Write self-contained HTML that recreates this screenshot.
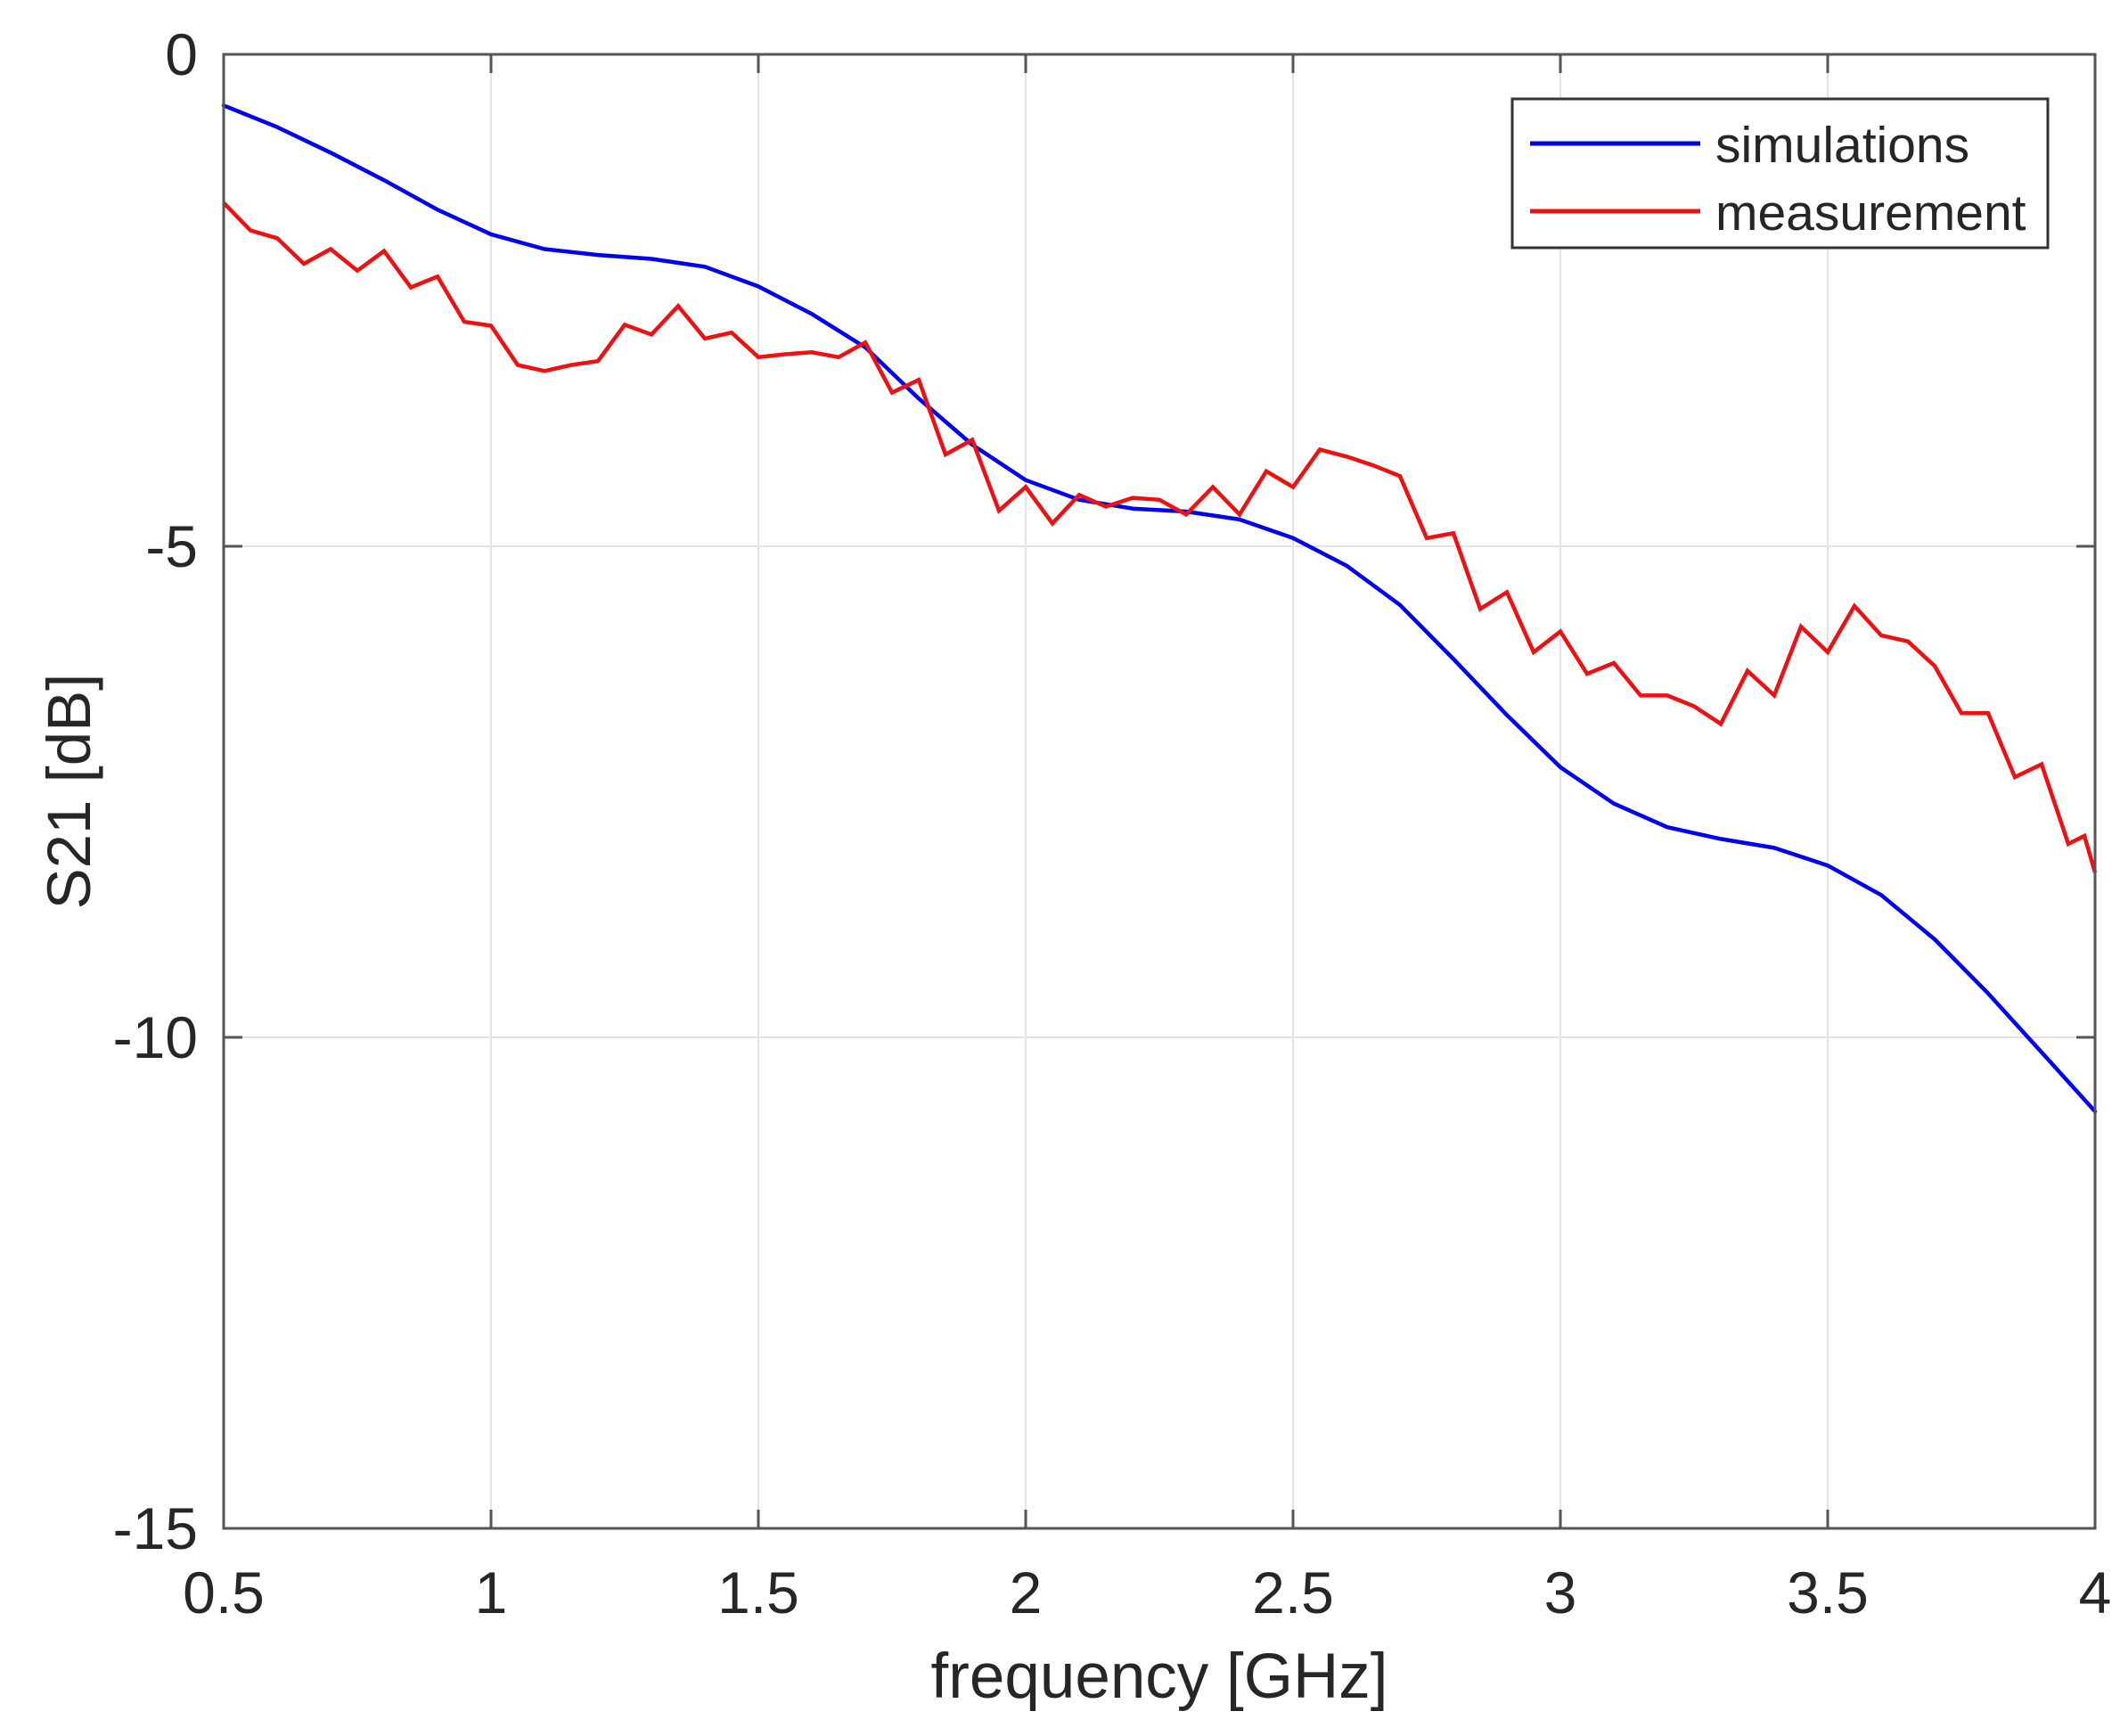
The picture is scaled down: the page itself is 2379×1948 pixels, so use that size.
<!DOCTYPE html>
<html><head><meta charset="utf-8"><style>
html,body{margin:0;padding:0;background:#fff;}
svg{display:block;}
text{font-family:"Liberation Sans",Arial,sans-serif;fill:#262626;}
</style></head><body>
<svg width="2379" height="1948" viewBox="0 0 2379 1948" xmlns="http://www.w3.org/2000/svg">
<rect width="2379" height="1948" fill="#fff"/>
<g stroke="#e3e3e3" stroke-width="2">
<line x1="551" y1="61" x2="551" y2="1715"/>
<line x1="851" y1="61" x2="851" y2="1715"/>
<line x1="1151" y1="61" x2="1151" y2="1715"/>
<line x1="1451" y1="61" x2="1451" y2="1715"/>
<line x1="1751" y1="61" x2="1751" y2="1715"/>
<line x1="2051" y1="61" x2="2051" y2="1715"/>
<line x1="251" y1="613" x2="2351" y2="613"/>
<line x1="251" y1="1164" x2="2351" y2="1164"/>
</g>
<g stroke="#555" stroke-width="3">
<line x1="551" y1="1715" x2="551" y2="1694"/><line x1="851" y1="1715" x2="851" y2="1694"/>
<line x1="1151" y1="1715" x2="1151" y2="1694"/><line x1="1451" y1="1715" x2="1451" y2="1694"/>
<line x1="1751" y1="1715" x2="1751" y2="1694"/><line x1="2051" y1="1715" x2="2051" y2="1694"/>
<line x1="551" y1="61" x2="551" y2="82"/><line x1="851" y1="61" x2="851" y2="82"/>
<line x1="1151" y1="61" x2="1151" y2="82"/><line x1="1451" y1="61" x2="1451" y2="82"/>
<line x1="1751" y1="61" x2="1751" y2="82"/><line x1="2051" y1="61" x2="2051" y2="82"/>
<line x1="251" y1="613" x2="272" y2="613"/><line x1="251" y1="1164" x2="272" y2="1164"/>
<line x1="2351" y1="613" x2="2330" y2="613"/><line x1="2351" y1="1164" x2="2330" y2="1164"/>
</g>
<polyline fill="none" stroke="#0000ee" stroke-width="4.5" stroke-linejoin="round" stroke-linecap="round" points="251,118.4 311,142.6 371,171.3 431,202.2 491,235.3 551,262.9 611,279.5 671,286.1 731,290.5 791,299.3 851,321.4 911,352.3 971,389.8 1031,447.2 1091,499 1151,538.7 1211,560.8 1271,570.7 1331,574 1391,582.9 1451,603.8 1511,634.7 1571,678.8 1631,739.5 1691,802.4 1751,860.9 1811,901.7 1871,928.2 1931,941.4 1991,951.4 2051,971.2 2111,1004.3 2171,1054 2231,1114.7 2291,1180.8 2351,1247.1"/>
<polyline fill="none" stroke="#ee1111" stroke-width="4.5" stroke-linejoin="miter" points="251,227.6 281,258.5 311,267.3 341,296 371,279.5 401,303.7 431,281.7 461,322.5 491,310.3 521,361.1 551,365.5 581,409.6 611,416.3 641,409.6 671,405.2 701,364.4 731,375.4 761,343.4 791,379.9 821,373.2 851,400.8 881,397.5 911,395.3 941,400.8 971,384.3 1001,440.5 1031,426.2 1061,510 1091,493.5 1121,573 1151,546.5 1181,587.3 1211,555.3 1241,568.5 1271,558.6 1301,560.8 1331,577.3 1361,546.5 1391,577.3 1421,528.8 1451,546.5 1481,504.5 1511,512.3 1541,522.2 1571,534.3 1601,603.8 1631,598.3 1661,683.3 1691,664.5 1721,731.8 1751,708.6 1781,756.1 1811,744 1841,780.4 1871,780.4 1901,792.5 1931,812.3 1961,752.8 1991,780.4 2021,703.1 2051,731.8 2081,680 2111,713 2141,719.7 2171,747.3 2201,800.2 2231,800.2 2261,872 2291,857.6 2321,947 2339,938 2351,979"/>
<rect x="251" y="61" width="2100" height="1654" fill="none" stroke="#555" stroke-width="3"/>
<g font-size="66" text-anchor="middle">
<text x="251" y="1810">0.5</text><text x="551" y="1810">1</text><text x="851" y="1810">1.5</text>
<text x="1151" y="1810">2</text><text x="1451" y="1810">2.5</text><text x="1751" y="1810">3</text>
<text x="2051" y="1810">3.5</text><text x="2351" y="1810">4</text>
</g>
<g font-size="66" text-anchor="end">
<text x="222" y="84">0</text><text x="222" y="636">-5</text>
<text x="222" y="1187">-10</text><text x="222" y="1738">-15</text>
</g>
<text x="1301" y="1905" font-size="71" text-anchor="middle">frequency [GHz]</text>
<text transform="translate(101,888) rotate(-90)" font-size="69" text-anchor="middle">S21 [dB]</text>
<rect x="1697" y="111" width="601" height="167" fill="#fff" stroke="#333" stroke-width="3"/>
<line x1="1717" y1="161" x2="1908" y2="161" stroke="#0000ee" stroke-width="5"/>
<line x1="1717" y1="237" x2="1908" y2="237" stroke="#ee1111" stroke-width="5"/>
<text x="1925" y="182" font-size="57" fill="#000">simulations</text>
<text x="1925" y="258" font-size="57" fill="#000">measurement</text>
</svg>
</body></html>
